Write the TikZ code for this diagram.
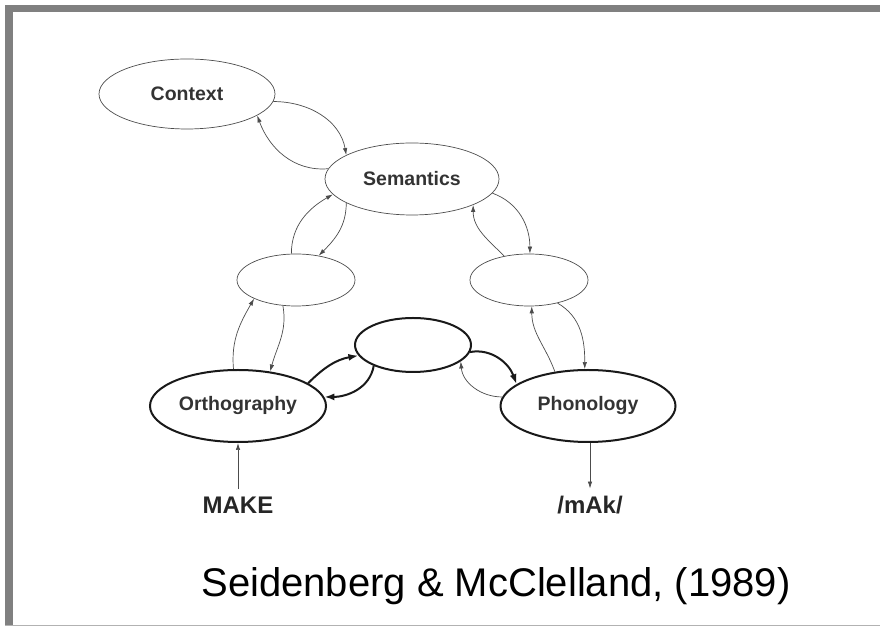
\documentclass[tikz,border=0pt]{standalone}
\usepackage{fontspec}
\setmainfont{Liberation Sans}
\usetikzlibrary{shapes.geometric,arrows.meta}

\begin{document}
\begin{tikzpicture}[x=1pt,y=1pt,
  >={Latex[length=7pt,width=4.5pt]},
  thinunit/.style={ellipse,draw=black!70,line width=0.7pt,inner sep=0pt},
  thickunit/.style={ellipse,draw=black!90,line width=2pt,inner sep=0pt},
  lbl/.style={font=\fontsize{19.5}{20}\selectfont\bfseries,text=black!80},
  thinarr/.style={->,draw=black!70,line width=0.7pt},
  thickarr/.style={-{Latex[length=10pt,width=7pt]},draw=black!90,line width=2pt}]
  \useasboundingbox (0,0) rectangle (880,626);
  % frame
  \fill[black!50] (5,613.5) rectangle (880,621);
  \fill[black!50] (5,0) rectangle (12.5,621);
  \draw[black!30,line width=1.5pt] (5,0.75) -- (880,0.75);
  % units
  \node[thinunit,lbl,minimum width=176pt,minimum height=70pt] (ctx) at (187,532) {Context};
  \node[thinunit,lbl,minimum width=174pt,minimum height=72pt] (sem) at (412,447) {Semantics};
  \node[thinunit,minimum width=118pt,minimum height=52pt] (lmid) at (296,346) {};
  \node[thinunit,minimum width=118pt,minimum height=52pt] (rmid) at (529,346) {};
  \node[thickunit,minimum width=116pt,minimum height=54pt] (hid) at (413,281) {};
  \node[thickunit,lbl,minimum width=176pt,minimum height=72pt] (orth) at (238,220) {Orthography};
  \node[thickunit,lbl,minimum width=175pt,minimum height=72pt] (phon) at (588,220) {Phonology};
  \node[font=\fontsize{24}{24}\selectfont\bfseries,text=black!85] (make) at (238,121) {MAKE};
  \node[font=\fontsize{24}{24}\selectfont\bfseries,text=black!85] (mak) at (590,121) {/mAk/};
  \node[font=\fontsize{40}{40}\selectfont,anchor=base] (cite) at (496,29) {Seidenberg \& McClelland, (1989)};
  % context -- semantics
  \draw[thinarr] (ctx.-5) to[out=0,in=100] (sem.160);
  \draw[thinarr] (sem.173) to[out=185,in=-70] (ctx.-17);
  % semantics -- hidden units
  \draw[thinarr] (lmid.100) to[out=90,in=210] (sem.191);
  \draw[thinarr] (sem.200) to[out=-90,in=45] (lmid.47);
  \draw[thinarr] (sem.-10) to[out=-20,in=90] (rmid.88);
  \draw[thinarr] (rmid.136) to[out=135,in=-90] (sem.-23);
  \draw[thinarr] (orth.97) to[out=95,in=240] (lmid.204);
  \draw[thinarr] (lmid.243) to[out=-80,in=75] (orth.47);
  \draw[thinarr] (phon.134) to[out=110,in=-90] (rmid.-84);
  \draw[thinarr] (rmid.-39) to[out=-30,in=90] (phon.95);
  % orthography -- phonology
  \draw[thickarr] (orth.18) to[out=45,in=190] (hid.191);
  \draw[thickarr] (hid.208) to[out=-100,in=0] (orth.6);
  \draw[thickarr] (hid.-7) to[out=10,in=110] (phon.163);
  \draw[thinarr] (phon.174) to[out=180,in=-85] (hid.-19);
  % input and output
  \draw[thinarr,shorten <=4pt] (make.north) -- (orth.south);
  \draw[thinarr,shorten >=4pt] (mak.north |- phon.south) -- (mak.north);
\end{tikzpicture}
\end{document}
